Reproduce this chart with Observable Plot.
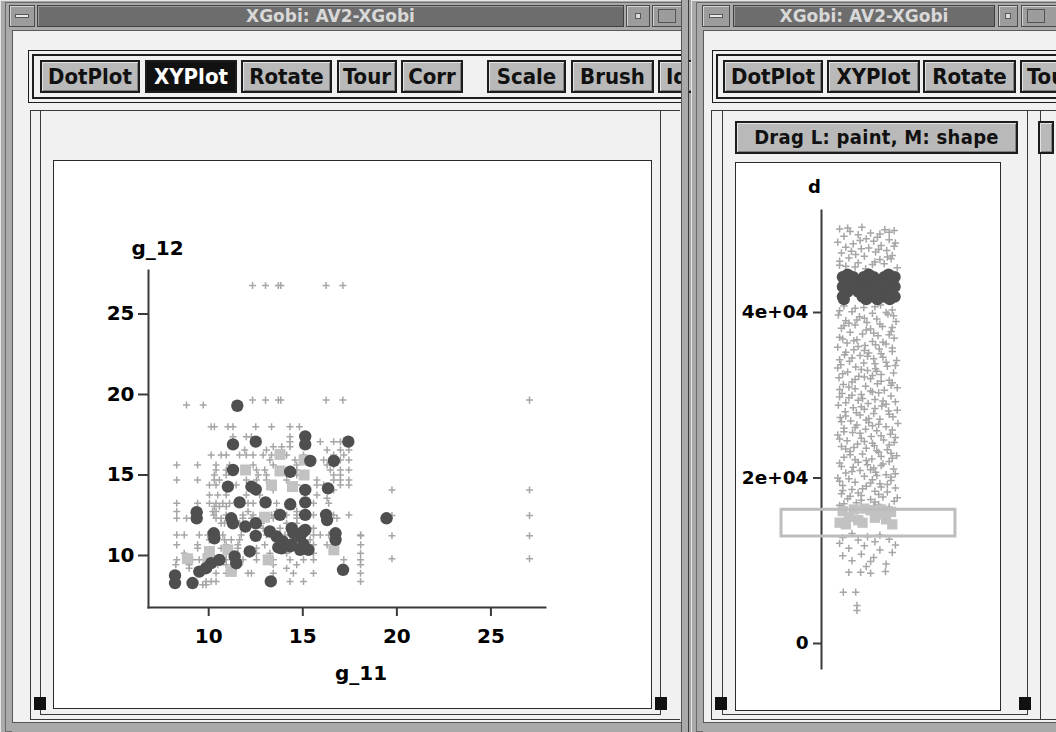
<!DOCTYPE html>
<html>
<head>
<meta charset="utf-8">
<script src="https://cdn.jsdelivr.net/npm/d3@7"></script>
<script src="https://cdn.jsdelivr.net/npm/@observablehq/plot@0.6"></script>
<style>
html,body{margin:0;padding:0;}
body{width:1056px;height:732px;overflow:hidden;position:relative;background:#a6a6a6;font-family:"DejaVu Sans",sans-serif;}
.a{position:absolute;box-sizing:border-box;}
.win{background:#a9a9a9;box-shadow:inset 1px 1px 0 #e6e6e6, inset -1px 0 0 #3c3c3c;}
.tb{background:#6d6d6d;border:1px solid #3f3f3f;box-shadow:inset 1px 1px 0 #9a9a9a;color:#d8d8d8;font:bold 17px "DejaVu Sans",sans-serif;text-align:center;line-height:21px;white-space:nowrap;}
.ic{background:#9c9c9c;border:1px solid #4a4a4a;box-shadow:inset 1px 1px 0 #d4d4d4;}
.client{background:#f1f1f1;border-left:1px solid #5a5a5a;border-top:1px solid #5a5a5a;}
.bar{border:1px solid #1e1e1e;}
.btn{background:#b9b9b9;border:2px solid #1c1c1c;box-shadow:inset 1px 1px 0 #e2e2e2, inset -1px -1px 0 #808080;font:bold 22px "DejaVu Sans Condensed","DejaVu Sans",sans-serif;color:#111;text-align:center;line-height:29px;white-space:nowrap;overflow:hidden;}
.btn.on{background:#111;color:#fff;box-shadow:none;}
.ln{border:1px solid #3a3a3a;}
.pl{background:#fff;border:1px solid #2a2a2a;}
.blk{background:#111;}
</style>
</head>
<body>
<!-- left window chrome -->
<div class="a win" style="left:0;top:0;width:689px;height:732px;"></div>
<div class="a" style="left:5px;top:2px;width:679px;height:730px;border:1px solid #6a6a6a;"></div>
<div class="a ic" style="left:9px;top:5px;width:26px;height:22px;"><div class="a" style="left:5px;top:8px;width:14px;height:4px;background:#e8e8e8;border:1px solid #555;"></div></div>
<div class="a tb" style="left:37px;top:5px;width:587px;height:22px;">XGobi: AV2-XGobi</div>
<div class="a ic" style="left:626px;top:5px;width:24px;height:22px;"><div class="a" style="left:8px;top:7px;width:6px;height:6px;border:1px solid #555;background:#ddd;"></div></div>
<div class="a ic" style="left:652px;top:5px;width:30px;height:22px;"><div class="a" style="left:5px;top:3px;width:18px;height:14px;border:1px solid #555;"></div></div>
<div class="a client" style="left:12px;top:30px;width:669px;height:702px;"></div>
<div class="a bar" style="left:28px;top:50px;width:660px;height:53px;"></div>
<div class="a bar" style="left:32px;top:54px;width:656px;height:45px;border-width:2px;"></div>
<div class="a btn" style="left:40px;top:60px;width:100px;height:33px;">DotPlot</div>
<div class="a btn on" style="left:145px;top:60px;width:92px;height:33px;">XYPlot</div>
<div class="a btn" style="left:241px;top:60px;width:91px;height:33px;">Rotate</div>
<div class="a btn" style="left:337px;top:60px;width:60px;height:33px;">Tour</div>
<div class="a btn" style="left:401px;top:60px;width:62px;height:33px;">Corr</div>
<div class="a btn" style="left:487px;top:60px;width:79px;height:33px;">Scale</div>
<div class="a btn" style="left:571px;top:60px;width:83px;height:33px;">Brush</div>
<div class="a btn" style="left:658px;top:60px;width:40px;height:33px;text-align:left;padding-left:6px;">Id</div>
<div class="a ln" style="left:30px;top:110px;width:650px;height:610px;border-right:none;"></div>
<div class="a ln" style="left:40px;top:110px;width:621px;height:605px;border-top:none;"></div>
<div class="a pl" style="left:53px;top:160px;width:599px;height:549px;"></div>
<div id="left" class="a" style="left:53px;top:160px;"></div>
<div class="a blk" style="left:34px;top:697px;width:12px;height:13px;"></div>
<div class="a blk" style="left:655px;top:697px;width:12px;height:13px;"></div>
<div class="a" style="left:12px;top:722px;width:669px;height:10px;border-top:1px solid #555;background:#a9a9a9;"></div>
<div class="a" style="left:681px;top:0;width:8px;height:732px;background:#a9a9a9;border-left:1px solid #555;border-right:1px solid #3c3c3c;"></div>

<!-- right window chrome -->
<div class="a win" style="left:691px;top:0;width:370px;height:732px;"></div>
<div class="a" style="left:696px;top:2px;width:370px;height:730px;border:1px solid #6a6a6a;"></div>
<div class="a ic" style="left:702px;top:5px;width:28px;height:22px;"><div class="a" style="left:6px;top:8px;width:14px;height:4px;background:#e8e8e8;border:1px solid #555;"></div></div>
<div class="a tb" style="left:733px;top:5px;width:262px;height:22px;">XGobi: AV2-XGobi</div>
<div class="a ic" style="left:998px;top:5px;width:20px;height:22px;"><div class="a" style="left:6px;top:7px;width:6px;height:6px;border:1px solid #555;background:#ddd;"></div></div>
<div class="a ic" style="left:1021px;top:5px;width:40px;height:22px;"><div class="a" style="left:5px;top:3px;width:18px;height:14px;border:1px solid #555;"></div></div>
<div class="a client" style="left:703px;top:30px;width:360px;height:702px;"></div>
<div class="a bar" style="left:712px;top:50px;width:360px;height:53px;"></div>
<div class="a bar" style="left:716px;top:54px;width:356px;height:45px;border-width:2px;"></div>
<div class="a btn" style="left:723px;top:60px;width:100px;height:33px;">DotPlot</div>
<div class="a btn" style="left:827px;top:60px;width:93px;height:33px;">XYPlot</div>
<div class="a btn" style="left:923px;top:60px;width:93px;height:33px;">Rotate</div>
<div class="a btn" style="left:1020px;top:60px;width:60px;height:33px;text-align:left;padding-left:5px;">Tour</div>
<div class="a ln" style="left:711px;top:110px;width:360px;height:610px;"></div>
<div class="a ln" style="left:722px;top:110px;width:306px;height:605px;border-top:none;"></div>
<div class="a ln" style="left:1040px;top:110px;width:30px;height:610px;border-right:none;border-top:none;"></div>
<div class="a btn" style="left:735px;top:121px;width:283px;height:33px;font-size:20px;letter-spacing:0.3px;">Drag L: paint, M: shape</div>
<div class="a btn" style="left:1038px;top:121px;width:16px;height:33px;"></div>
<div class="a pl" style="left:735px;top:162px;width:266px;height:549px;"></div>
<div id="right" class="a" style="left:735px;top:162px;"></div>
<div class="a blk" style="left:715px;top:697px;width:12px;height:13px;"></div>
<div class="a blk" style="left:1019px;top:697px;width:12px;height:13px;"></div>
<div class="a" style="left:703px;top:722px;width:360px;height:10px;border-top:1px solid #555;background:#a9a9a9;"></div>

<script>
// ---------- Left panel: XY plot of g_11 (x) vs g_12 (y) ----------
const xTicks = [10, 15, 20, 25];
const yTicks = [10, 15, 20, 25];
const xLabel = "g_11";
const yLabel = "g_12";

// unbrushed points (gray plus glyphs), grouped by g_12 level: [g_12, [g_11 values]]
const plusRows = [
  [26.77, [12.33, 13.02, 13.7, 13.83, 16.24, 17.13]],
  [19.65, [12.33, 13.02, 13.7, 13.83, 16.24, 17.13, 27.05]],
  [19.34, [8.82, 9.71]],
  [18.0, [10.13, 10.3, 11.02, 11.29, 12.5, 13.34, 14.32, 14.82]],
  [17.38, [11.29, 12.0, 12.27, 14.32, 15.13]],
  [17.07, [14.32, 15.93, 16.64, 17.0, 17.45]],
  [16.76, [13.43, 13.88, 14.32]],
  [16.55, [11.91, 13.07, 16.29, 17.0, 17.45]],
  [16.24, [10.13, 10.66, 10.93, 11.64, 12.0, 12.36, 12.89, 13.34, 14.14, 15.04, 16.64, 17.18]],
  [15.93, [13.25, 14.59, 15.39, 16.11, 16.64, 17.0, 17.45]],
  [15.62, [8.3, 9.41, 10.39, 11.11, 12.36, 13.43, 14.68, 16.29, 16.64]],
  [15.31, [10.39, 10.93, 12.54, 12.98, 14.68, 16.46, 17.0, 17.45]],
  [15.0, [10.3, 10.93, 12.63, 13.07, 14.68, 16.64, 17.0]],
  [14.69, [8.3, 9.41, 10.3, 10.57, 12.0, 12.54, 13.07, 14.14, 15.75, 16.64, 17.0, 17.45]],
  [14.38, [10.04, 10.39, 11.46, 13.43, 14.68, 15.75, 16.11, 17.0, 17.45]],
  [14.07, [13.43, 16.64, 19.74, 27.05]],
  [13.76, [10.04, 10.48, 10.93, 12.0, 12.71, 15.75]],
  [13.55, [16.29]],
  [13.24, [8.3, 9.41, 10.04, 10.39, 10.75, 11.11, 12.09, 12.36, 13.61, 15.57, 16.38]],
  [13.04, [10.3, 10.57, 10.93, 14.5]],
  [12.73, [8.3, 10.21, 10.39, 12.09, 13.61, 14.68]],
  [12.52, [10.27, 10.93, 11.82, 12.36, 13.34, 14.14, 14.68, 15.57, 16.64, 17.45]],
  [12.48, [19.74, 27.05]],
  [12.31, [8.3, 8.82, 9.5, 10.39, 10.66, 11.82, 12.27, 12.71, 13.43, 14.68, 16.82]],
  [12.0, [10.66, 10.84, 11.64, 12.8, 14.14, 14.68]],
  [11.69, [12.89, 13.79, 14.68, 15.57]],
  [11.28, [8.3, 8.7, 9.5, 9.95, 10.75, 11.73, 13.07, 14.05, 14.5, 15.57, 15.93, 16.38, 18.07]],
  [11.22, [18.08, 19.74, 27.05]],
  [10.97, [10.04, 10.84, 11.2, 11.64, 14.14, 14.86, 15.39]],
  [10.66, [8.3, 9.41, 10.93, 11.55, 12.98, 13.79, 15.57, 16.29, 18.08]],
  [10.45, [9.41, 10.66, 11.55, 12.54, 15.21]],
  [10.14, [8.7, 10.93, 12.54, 13.25, 14.14, 15.57, 18.07]],
  [9.8, [19.74, 27.05]],
  [9.73, [8.3, 9.14, 9.5, 10.3, 10.93, 11.82, 12.54, 13.43, 14.32, 15.04, 15.57, 17.18, 18.07]],
  [9.42, [8.25, 8.96, 9.86, 10.48, 10.93, 11.64, 13.43, 14.68, 18.07]],
  [9.21, [8.96, 10.04, 11.46, 14.14]],
  [8.9, [10.39, 10.93, 12.09, 12.27, 13.43, 14.5, 15.57, 18.07]],
  [8.39, [9.86, 10.13, 10.39, 14.32, 15.04, 18.07]],
  [8.18, [9.68, 9.86]]
];

// brushed group 1: dark filled circles [g_11, g_12]
const darkPts = [
  [11.52,19.3],[11.29,16.9],[12.5,17.07],[15.13,17.4],[15.13,16.9],[17.42,17.07],[11.29,15.31],
  [15.4,15.87],[16.65,15.87],[14.33,15.2],[11.02,14.28],[12.27,14.28],[12.5,14.1],[15.13,14.07],
  [16.34,14.17],[11.64,13.3],[13.02,13.3],[14.33,13.18],[15.13,13.3],[9.36,12.69],[9.36,12.31],
  [11.2,12.31],[11.29,12.0],[11.95,11.8],[12.5,12.0],[13.79,12.52],[15.13,12.52],[16.24,12.52],
  [16.29,12.2],[19.45,12.31],[10.27,11.38],[10.3,11.07],[12.5,11.22],[13.25,11.49],[13.61,11.18],
  [13.93,10.87],[14.41,11.69],[14.86,11.18],[15.13,11.59],[13.88,10.45],[14.33,10.56],[14.86,10.35],
  [15.3,10.35],[16.74,11.38],[16.74,10.97],[12.18,10.25],[11.38,9.94],[11.46,9.52],[10.57,9.73],
  [10.13,9.52],[9.86,9.21],[9.5,9.0],[8.21,8.76],[8.21,8.29],[9.14,8.29],[13.3,8.39],[17.14,9.11],
  [14.5,11.4],[15.04,11.49],[14.42,10.68],[15.04,10.68],[13.7,10.5]
];

// brushed group 2: light gray squares [g_11, g_12]
const lightPts = [
  [13.79,16.28],[15.07,15.93],[11.96,15.31],[13.79,15.25],[15.07,15.0],[13.34,14.38],[14.45,14.28],
  [12.97,12.38],[10.04,10.25],[9.95,9.8],[8.87,9.8],[11.02,10.35],[11.2,9.01],[13.16,9.73],[16.65,10.35]
];

// ---------- Right panel: jittered dot plot of d ----------
const dTicks = [0, 20000, 40000];
const dLabel = "d";
// unbrushed values [d in thousands, jitter 0..1]
const dGray = [
  [50.1,.05],[49.8,.22],[50.3,.41],[49.6,.55],[50.0,.78],[49.9,.93],[49.2,.12],[49.4,.35],[48.9,.48],[49.1,.66],
  [48.8,.85],[48.5,.02],[48.3,.27],[48.6,.60],[48.1,.72],[48.4,.95],[47.9,.15],[47.7,.40],[47.8,.52],[47.5,.81],
  [47.2,.08],[47.0,.31],[47.3,.63],[46.9,.90],[46.6,.20],[46.8,.45],[46.4,.70],[46.2,.05],[46.5,.88],[46.0,.35],
  [45.8,.58],[45.6,.15],[45.9,.77],[45.4,.98],[45.3,.47],[49.5,.70],[48.0,.93],[47.4,.24],[46.1,.62],[45.5,.30],
  [50.2,.18],[49.7,.85],[48.7,.38],[47.6,.68],[46.7,.82],[45.7,.05],
  [40.8,.12],[40.6,.44],[40.9,.71],[40.3,.90],[40.1,.25],[39.9,.58],[39.7,.03],[39.5,.37],[39.8,.83],[39.2,.65],
  [39.0,.15],[38.8,.49],[38.9,.96],[38.5,.30],[38.3,.74],[38.1,.08],[38.0,.55],[37.7,.88],[37.6,.22],[37.4,.42],
  [37.2,.67],[37.0,.05],[36.9,.93],[36.7,.33],[36.5,.58],[36.3,.17],[36.2,.80],[36.0,.46],[35.8,.02],[35.6,.69],
  [35.5,.28],[35.3,.90],[35.1,.52],[34.9,.13],[34.8,.38],[34.6,.75],[34.4,.60],[34.2,.97],[34.1,.21],[33.9,.44],
  [33.7,.07],[33.5,.82],[33.4,.31],[33.2,.63],[33.0,.50],[32.8,.18],[32.7,.92],[32.5,.72],[32.3,.36],[32.1,.04],
  [32.0,.55],[31.8,.85],[31.6,.25],[31.4,.66],[31.3,.11],[31.1,.47],[30.9,.98],[30.8,.30],[30.6,.77],[30.4,.58],
  [30.2,.09],[30.1,.40],[29.9,.88],[29.7,.20],[29.5,.62],[29.4,.35],[29.2,.95],[29.0,.51],[28.8,.03],[28.7,.73],
  [28.5,.27],[28.3,.45],[28.1,.84],[28.0,.14],[27.8,.60],[27.6,.38],[27.4,.91],[27.3,.06],[27.1,.70],[26.9,.23],
  [26.7,.52],[26.6,.99],[26.4,.33],[26.2,.80],[26.0,.12],[25.9,.47],[25.7,.65],[25.5,.26],[25.3,.87],[25.2,.02],
  [25.0,.56],[24.8,.40],[24.6,.76],[24.5,.17],[24.3,.93],[24.1,.34],[23.9,.61],[23.8,.08],[23.6,.48],[23.4,.82],
  [23.2,.22],[23.1,.68],[22.9,.42],[22.7,.97],[22.5,.12],[22.3,.57],[22.2,.30],[22.0,.85],[21.8,.05],[21.6,.50],
  [21.5,.72],[21.3,.27],[21.1,.92],[20.9,.38],[20.7,.63],[20.6,.15],[20.4,.80],[20.2,.45],[20.0,.02],[19.8,.58],
  [19.7,.88],[19.5,.30],[19.3,.70],[19.1,.10],[19.0,.48],[18.8,.95],[18.6,.25],[18.4,.62],[18.3,.82],[18.1,.08],
  [17.9,.40],[17.7,.75],[17.5,.18],[17.4,.55],[17.2,.93],[17.0,.32],[16.8,.68],[16.7,.05],[16.5,.85],[16.4,.45],
  [40.5,.30],[40.0,.80],[39.3,.45],[38.7,.20],[38.2,.90],[37.5,.60],[36.8,.10],[36.4,.75],[35.9,.35],[35.2,.15],
  [34.7,.50],[34.0,.80],[33.3,.02],[32.9,.65],[32.2,.45],[31.5,.90],[31.0,.20],[30.5,.55],[29.8,.05],[29.3,.75],
  [28.6,.40],[28.2,.98],[27.5,.15],[27.0,.48],[26.5,.68],[25.8,.90],[25.4,.38],[24.7,.05],[24.2,.58],[23.7,.28],
  [23.0,.88],[22.6,.72],[21.9,.35],[21.2,.60],[20.5,.95],[19.9,.20],[19.4,.55],[18.9,.72],[18.2,.35],[17.6,.98],
  [17.1,.62],[16.9,.12],
  [40.7,.62],[40.2,.05],[39.6,.92],[39.1,.33],[38.6,.70],[38.4,.12],[37.9,.48],[37.3,.85],[36.6,.28],[36.1,.63],
  [35.7,.90],[35.4,.45],[35.0,.72],[34.5,.25],[34.3,.05],[33.8,.62],[33.6,.95],[33.1,.40],[32.6,.10],[32.4,.58],
  [31.9,.30],[31.7,.72],[31.2,.88],[30.7,.05],[30.3,.68],[30.0,.25],[29.6,.42],[29.1,.15],[28.9,.80],[28.4,.62],
  [27.9,.32],[27.7,.85],[27.2,.52],[26.8,.08],[26.3,.58],[26.1,.30],[25.6,.12],[25.1,.72],[24.9,.95],[24.4,.45],
  [24.0,.85],[23.5,.15],[23.3,.65],[22.8,.22],[22.4,.90],[22.1,.48],[21.7,.75],[21.4,.08],[21.0,.55],[20.8,.25],
  [20.3,.65],[20.1,.88],[19.6,.05],[19.2,.82],[18.7,.42],[18.5,.10],[18.0,.68],[17.8,.22],[17.3,.40],[16.6,.60],
  [13.3,.25],[13.1,.70],[12.8,.10],[12.9,.50],[12.6,.85],[12.5,.35],[12.3,.62],[12.1,.05],[11.9,.95],[11.8,.45],
  [11.5,.20],[11.3,.70],[11.0,.90],[10.8,.40],[10.6,.10],[10.4,.60],[10.0,.25],[9.9,.55],[9.6,.80],[9.3,.48],
  [8.6,.20],[8.6,.39],[8.5,.55],[8.7,.79],[6.2,.11],[6.2,.31],[4.6,.33],[4.0,.33]
];
// brushed group 1 on d: dark circles [d in thousands, jitter]
const dDark = [
  [44.6,.18],[44.6,.52],[44.6,.84],
  [44.3,.10],[44.3,.27],[44.3,.44],[44.3,.60],[44.3,.77],[44.3,.94],
  [43.7,.18],[43.7,.35],[43.7,.52],[43.7,.68],[43.7,.85],
  [43.1,.10],[43.1,.27],[43.1,.44],[43.1,.60],[43.1,.77],[43.1,.94],
  [42.5,.18],[42.5,.35],[42.5,.52],[42.5,.68],[42.5,.85],
  [41.9,.10],[41.9,.42],[41.9,.60],[41.9,.77],[41.9,.94],
  [41.6,.12],[41.6,.48],[41.6,.66],[41.6,.86]
];
// brushed group 2 on d: light squares [d in thousands, jitter]
const dLight = [
  [16.0,.10],[16.2,.28],[16.3,.45],[16.1,.55],[16.2,.72],[15.9,.88],[15.3,.20],[14.6,.05],[14.4,.15],
  [14.9,.35],[14.6,.42],[15.2,.62],[15.0,.80],[14.4,.90],[15.6,.70]
];
// brush rectangle in data units
const brush = [{j1: -0.887, j2: 1.919, d1: 12930, d2: 16160}];

// ---------- build ----------
const plusPts = plusRows.flatMap(([y, xs]) => xs.map(x => ({x, y})));
const toXY = ([x, y]) => ({x, y});
const toDJ = ([dk, j]) => ({d: dk * 1000, j});
const axisStyle = {stroke: "#3a3a3a", strokeWidth: 2, fill: "#000", fontSize: 20, fontWeight: "bold", label: null};
const labelStyle = {text: d => d, textAnchor: "middle", lineAnchor: "middle", fontWeight: "bold", fill: "#000"};

const left = Plot.plot({
  width: 598, height: 548,
  marginLeft: 95, marginRight: 106, marginTop: 110, marginBottom: 101,
  x: {domain: [6.8, 27.9]},
  y: {domain: [6.77, 27.7]},
  style: {fontFamily: "DejaVu Sans, sans-serif", background: "transparent", overflow: "visible"},
  marks: [
    Plot.frame({anchor: "left", stroke: "#3a3a3a", strokeWidth: 2}),
    Plot.frame({anchor: "bottom", stroke: "#3a3a3a", strokeWidth: 2}),
    Plot.axisX({...axisStyle, ticks: xTicks, tickSize: 9, tickPadding: 12}),
    Plot.axisY({...axisStyle, ticks: yTicks, tickSize: 10, tickPadding: 4}),
    Plot.dot(plusPts, {x: "x", y: "y", symbol: "plus", r: 2.4, stroke: "#a6a6a6", strokeWidth: 1.5}),
    Plot.dot(lightPts.map(toXY), {x: "x", y: "y", symbol: "square", r: 6.2, fill: "#c2c2c2"}),
    Plot.dot(darkPts.map(toXY), {x: "x", y: "y", r: 6.2, fill: "#4f4f4f"}),
    Plot.text([yLabel], {...labelStyle, frameAnchor: "top-left", dx: 9, dy: -22, fontSize: 20}),
    Plot.text([xLabel], {...labelStyle, frameAnchor: "bottom", dx: 14, dy: 66, fontSize: 20})
  ]
});
document.getElementById("left").appendChild(left);

const right = Plot.plot({
  width: 265, height: 548,
  marginLeft: 86, marginRight: 35, marginTop: 48, marginBottom: 42,
  x: {domain: [-0.242, 2.081], axis: null},
  y: {domain: [-3021, 52326]},
  style: {fontFamily: "DejaVu Sans, sans-serif", background: "transparent", overflow: "visible"},
  marks: [
    Plot.frame({anchor: "left", stroke: "#3a3a3a", strokeWidth: 2}),
    Plot.axisY({...axisStyle, fontSize: 18.5, ticks: dTicks, tickSize: 8, tickPadding: 5,
      tickFormat: d => d === 0 ? "0" : (d / 1e4) + "e+04"}),
    Plot.dot(dGray.map(toDJ), {x: "j", y: "d", symbol: "plus", r: 2.5, stroke: "#a6a6a6", strokeWidth: 1.5}),
    Plot.dot(dDark.map(toDJ), {x: "j", y: "d", r: 6, fill: "#4f4f4f"}),
    Plot.dot(dLight.map(toDJ), {x: "j", y: "d", symbol: "square", r: 5.8, fill: "#c2c2c2"}),
    Plot.rect(brush, {x1: "j1", x2: "j2", y1: "d1", y2: "d2", fill: "none", stroke: "#bdbdbd", strokeWidth: 3}),
    Plot.text([dLabel], {...labelStyle, frameAnchor: "top-left", dx: -7, dy: -23, fontSize: 18})
  ]
});
document.getElementById("right").appendChild(right);
</script>
</body>
</html>
